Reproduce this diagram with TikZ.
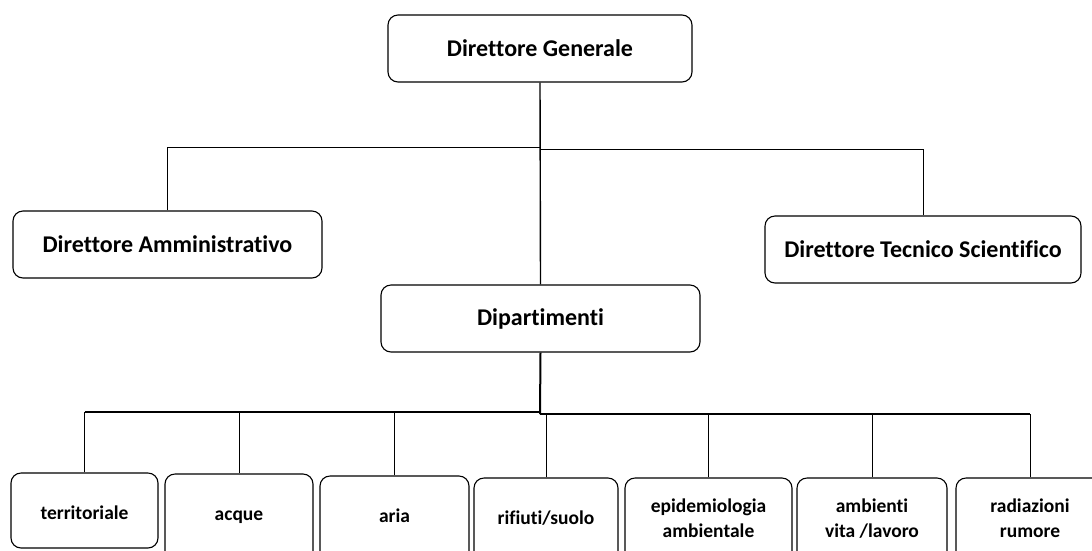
\documentclass[tikz,border=0pt]{standalone}
\usepackage{fontspec}
\setmainfont{Carlito}[Ligatures=NoCommon]
\begin{document}
\begin{tikzpicture}[x=1pt,y=-1pt,
  box/.style={draw, line width=1.1pt, rounded corners=10pt, align=center, inner sep=0pt, font=\bfseries\fontsize{24}{29}\selectfont},
  sbox/.style={draw, line width=1.1pt, rounded corners=10pt, inner sep=0pt, minimum height=90pt},
  lbl/.style={anchor=center, yshift=-42.5pt, align=center, inner sep=0pt, font=\bfseries\fontsize{19.5}{25}\selectfont},
  link/.style={line width=1pt},
  tlink/.style={line width=2pt}]
\useasboundingbox (0,0) rectangle (1092,550);
% top level
\node[box, minimum width=304pt, minimum height=67pt] (dg) at (540,48.5) {Direttore Generale};
\node[box, minimum width=309pt, minimum height=67pt] (da) at (167.5,244.5) {Direttore Amministrativo};
\node[box, minimum width=316pt, minimum height=67pt] (dts) at (923,249.5) {Direttore Tecnico Scientifico};
\node[box, minimum width=319pt, minimum height=67pt] (dip) at (540.5,318.5) {Dipartimenti};
% bottom level
\node[sbox, minimum width=147pt, minimum height=75pt, label={[lbl]north:\strut territoriale}] (ter) at (84.5,510.5) {};
\node[sbox, minimum width=148pt, label={[lbl]north:\strut acque}] (acq) at (239,519) {};
\node[sbox, minimum width=149pt, label={[lbl]north:\strut aria}] (ari) at (394.5,521) {};
\node[sbox, minimum width=144pt, label={[lbl]north:\strut rifiuti/suolo}] (rif) at (546,523) {};
\node[sbox, minimum width=167pt, label={[lbl]north:\strut epidemiologia\\\strut ambientale}] (epi) at (708.5,523) {};
\node[sbox, minimum width=150pt, label={[lbl]north:\strut ambienti\\\strut vita /lavoro}] (amb) at (872,523) {};
\node[sbox, minimum width=148pt, label={[lbl]north:\strut radiazioni\\\strut rumore}] (rad) at (1030,523) {};
% junction coordinates
\coordinate (jl) at (540,147);
\coordinate (jr) at (540,149);
\coordinate (bl) at (540,412);
\coordinate (br) at (540,414);
% upper connectors
\draw[line width=1.4pt] (dg.south) -- (dip.north);
\draw[link] (da.north) |- (jl);
\draw[link] (dts.north) |- (jr);
% lower connectors
\draw[tlink] (dip.south) -- (br);
\draw[tlink] (ter.north |- bl) -- (bl);
\draw[tlink] (br) -- (rad.north |- br);
\draw[link] (ter.north) -- (ter.north |- bl);
\draw[link] (acq.north) -- (acq.north |- bl);
\draw[link] (ari.north) -- (ari.north |- bl);
\draw[link] (rif.north) -- (rif.north |- br);
\draw[link] (epi.north) -- (epi.north |- br);
\draw[link] (amb.north) -- (amb.north |- br);
\draw[link] (rad.north) -- (rad.north |- br);
\end{tikzpicture}
\end{document}
